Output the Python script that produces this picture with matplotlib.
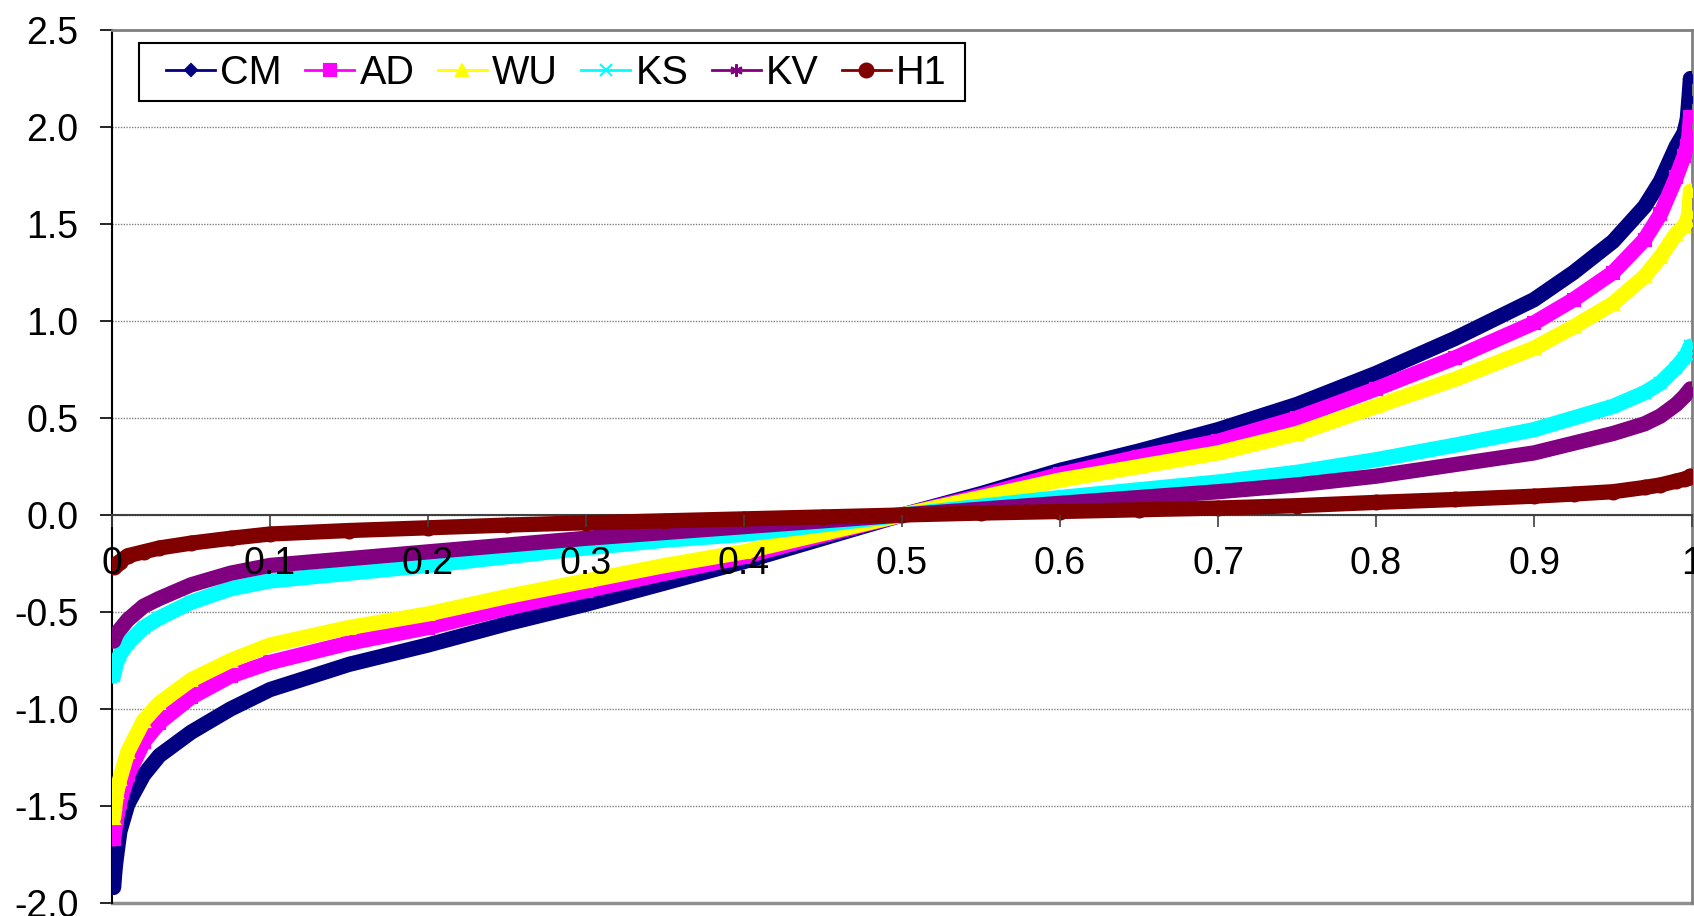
import matplotlib
matplotlib.use('Agg')
import matplotlib.pyplot as plt
from matplotlib.lines import Line2D
from matplotlib.patches import Rectangle

plt.rcParams['font.family'] = ['Liberation Sans', 'DejaVu Sans']

# probability points (x) and the six curves
x = [0.001, 0.002, 0.003, 0.005, 0.01, 0.02, 0.03, 0.05, 0.075, 0.1,
     0.15, 0.2, 0.25, 0.3, 0.35, 0.4, 0.45, 0.5, 0.55, 0.6,
     0.65, 0.7, 0.75, 0.8, 0.85, 0.9, 0.925, 0.95, 0.97, 0.98,
     0.99, 0.995, 0.997, 0.998, 0.999]

cm = [-1.92, -1.82, -1.75, -1.63, -1.49, -1.34, -1.24, -1.12, -1.00, -0.90,
      -0.77, -0.67, -0.56, -0.46, -0.35, -0.24, -0.12, 0.0, 0.11, 0.23,
      0.33, 0.44, 0.57, 0.73, 0.91, 1.11, 1.25, 1.41, 1.59, 1.72,
      1.90, 1.97, 2.04, 2.14, 2.25]
ad = [-1.67, -1.61, -1.56, -1.48, -1.34, -1.17, -1.07, -0.94, -0.83, -0.76,
      -0.66, -0.58, -0.48, -0.39, -0.30, -0.215, -0.105, 0.0, 0.10, 0.21,
      0.30, 0.38, 0.50, 0.65, 0.81, 0.99, 1.11, 1.25, 1.42, 1.55,
      1.74, 1.85, 1.90, 1.95, 2.05]
wu = [-1.56, -1.49, -1.43, -1.36, -1.22, -1.06, -0.97, -0.85, -0.75, -0.67,
      -0.58, -0.51, -0.42, -0.34, -0.26, -0.19, -0.095, 0.0, 0.09, 0.18,
      0.25, 0.32, 0.42, 0.56, 0.70, 0.86, 0.97, 1.09, 1.23, 1.33,
      1.45, 1.49, 1.52, 1.56, 1.67]
ks = [-0.83, -0.79, -0.76, -0.72, -0.66, -0.58, -0.53, -0.45, -0.38, -0.34,
      -0.30, -0.26, -0.215, -0.17, -0.13, -0.10, -0.05, 0.0, 0.045, 0.09,
      0.13, 0.17, 0.22, 0.285, 0.36, 0.44, 0.50, 0.56, 0.63, 0.68,
      0.76, 0.81, 0.83, 0.85, 0.87]
kv = [-0.65, -0.63, -0.61, -0.59, -0.54, -0.47, -0.43, -0.36, -0.30, -0.26,
      -0.225, -0.19, -0.155, -0.12, -0.09, -0.06, -0.03, 0.0, 0.03, 0.06,
      0.09, 0.12, 0.155, 0.20, 0.26, 0.32, 0.37, 0.42, 0.47, 0.51,
      0.57, 0.61, 0.63, 0.64, 0.65]
h1 = [-0.27, -0.26, -0.25, -0.24, -0.21, -0.19, -0.17, -0.145, -0.12, -0.098,
      -0.08, -0.066, -0.052, -0.04, -0.03, -0.02, -0.01, 0.0, 0.01, 0.018,
      0.027, 0.036, 0.048, 0.065, 0.08, 0.097, 0.108, 0.12, 0.142, 0.155,
      0.175, 0.185, 0.19, 0.195, 0.20]

names = ['CM', 'AD', 'WU', 'KS', 'KV', 'H1']
values = [cm, ad, wu, ks, kv, h1]

x_ticks = [0, 0.1, 0.2, 0.3, 0.4, 0.5, 0.6, 0.7, 0.8, 0.9, 1.0]
x_tick_labels = ['0', '0.1', '0.2', '0.3', '0.4', '0.5', '0.6', '0.7', '0.8', '0.9', '1']
y_ticks = [-2.0, -1.5, -1.0, -0.5, 0.0, 0.5, 1.0, 1.5, 2.0, 2.5]
y_tick_labels = ['-2.0', '-1.5', '-1.0', '-0.5', '0.0', '0.5', '1.0', '1.5', '2.0', '2.5']

colors = ['#000080', '#FF00FF', '#FFFF00', '#00FFFF', '#800080', '#800000']
markers = ['D', 's', '^', 'x', (6, 2, 0), 'o']
msizes = [6, 9, 9, 9, 9, 10]

W, H = 1694, 916
fig = plt.figure(figsize=(W / 100, H / 100), dpi=100)
ax = fig.add_axes([112 / W, 13 / H, 1580 / W, 873 / H])

for name, ys, c, m, s in zip(names, values, colors, markers, msizes):
    ax.plot(x, ys, color=c, lw=11, solid_capstyle='round', solid_joinstyle='round',
            marker=m, ms=s, mfc=c, mec=c, mew=1.5, zorder=3)

ax.set_xlim(0, 1)
ax.set_ylim(-2, 2.5)

ax.spines['bottom'].set_position(('data', 0))
ax.spines['bottom'].set_color('#404040')
ax.spines['bottom'].set_linewidth(1.5)
ax.spines['left'].set_color('black')
ax.spines['left'].set_linewidth(1.5)
for side in ['top', 'right']:
    ax.spines[side].set_color('#808080')
    ax.spines[side].set_linewidth(2)
ax.axhline(-2.0, color='#909090', lw=2.5, clip_on=False, zorder=2.5)

ax.set_xticks(x_ticks)
ax.set_xticklabels(x_tick_labels)
ax.set_yticks(y_ticks)
ax.set_yticklabels(y_tick_labels)
ax.tick_params(axis='x', direction='out', length=8.5, width=1.2, pad=14, labelsize=27,
               color='#404040')
ax.tick_params(axis='y', direction='out', length=8.5, width=1.2, pad=15.5, labelsize=27)
ax.yaxis.grid(True, color='#808080', linestyle=(0, (1, 1)), lw=1)
ax.xaxis.set_zorder(4)

handles = [Line2D([], [], color=c, lw=2, marker=m, ms=s, mfc=c, mec=c, mew=1.5)
           for c, m, s in zip(colors, markers, msizes)]
leg = ax.legend(handles, names, loc='upper left', ncol=6, frameon=False,
                bbox_to_anchor=(166 / W, 1 - 54 / H), bbox_transform=fig.transFigure,
                borderpad=0, borderaxespad=0, fontsize=28.5,
                handlelength=1.24, handletextpad=0.13, columnspacing=0.59)
fig.add_artist(Rectangle((139 / W, 1 - 101 / H), 826 / W, 58 / H, transform=fig.transFigure,
                         fill=False, edgecolor='black', lw=1.5))

fig.savefig('out.png', dpi=100)
